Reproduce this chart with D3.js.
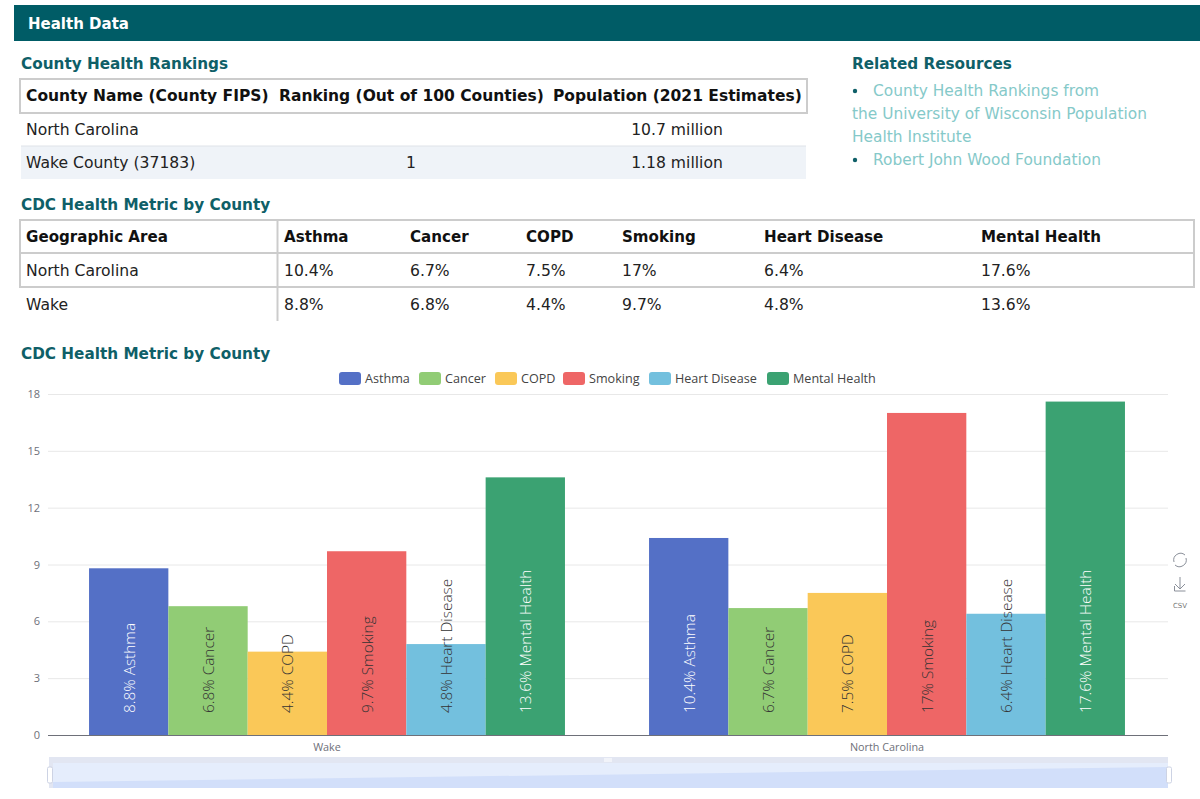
<!DOCTYPE html>
<html>
<head>
<meta charset="utf-8">
<title>Health Data</title>
<script src="https://cdn.jsdelivr.net/npm/d3@7"></script>
<style>
html, body { margin: 0; padding: 0; background: #fff; overflow: hidden; }
svg { display: block; font-family: "DejaVu Sans", sans-serif; }
.heading { font-size: 15.25px; font-weight: bold; fill: #0f5f68; }
.head { font-size: 15.1px; font-weight: bold; fill: #111; }
.head-wide { font-size: 15.5px; font-weight: bold; fill: #111; }
.cell { font-size: 15.6px; fill: #222; }
.link { font-size: 15.4px; fill: #85c9c9; }
.chart-text { font-family: "Open Sans", sans-serif; }
</style>
</head>
<body>
<svg id="page" width="1200" height="799"></svg>
<script>
// Values
var categories = ['Wake', 'North Carolina'];
var metrics = ['Asthma', 'Cancer', 'COPD', 'Smoking', 'Heart Disease', 'Mental Health'];
var wakeValues = [8.8, 6.8, 4.4, 9.7, 4.8, 13.6];
var ncValues = [10.4, 6.7, 7.5, 17, 6.4, 17.6];
var yTicks = [0, 3, 6, 9, 12, 15, 18];
var colors = ['#5470c6', '#91cc75', '#fac858', '#ee6666', '#73c0de', '#3ba272'];
var labelColors = ['#fff', '#333', '#333', '#333', '#333', '#fff'];

var rankHeader = ['County Name (County FIPS)', 'Ranking (Out of 100 Counties)', 'Population (2021 Estimates)'];
var rankRows = [
    ['North Carolina', '', '10.7 million'],
    ['Wake County (37183)', '1', '1.18 million']
];
var metricHeader = ['Geographic Area'].concat(metrics);
var metricRows = [
    ['North Carolina', '10.4%', '6.7%', '7.5%', '17%', '6.4%', '17.6%'],
    ['Wake', '8.8%', '6.8%', '4.4%', '9.7%', '4.8%', '13.6%']
];

var valuesByCategory = [wakeValues, ncValues];
var svg = d3.select('#page');

// Banner and headings
svg.append('rect').attr('x', 14).attr('y', 5).attr('width', 1186).attr('height', 36).attr('fill', '#005c66');
svg.append('text').attr('x', 28).attr('y', 29).attr('fill', '#fff')
    .style('font-size', '15px').style('font-weight', 'bold').text('Health Data');

function heading(x, y, txt) {
    svg.append('text').attr('class', 'heading').attr('x', x).attr('y', y).text(txt);
}
heading(21, 69, 'County Health Rankings');
heading(852, 69, 'Related Resources');
heading(21, 210, 'CDC Health Metric by County');
heading(21, 359, 'CDC Health Metric by County');

// Related resources list
var links = [
    {bullet: true, text: 'County Health Rankings from', y: 96},
    {bullet: false, text: 'the University of Wisconsin Population', y: 119},
    {bullet: false, text: 'Health Institute', y: 142},
    {bullet: true, text: 'Robert John Wood Foundation', y: 165}
];
links.forEach(function(d) {
    if (d.bullet) {
        svg.append('circle').attr('cx', 855).attr('cy', d.y - 5).attr('r', 2.2).attr('fill', '#0f5f68');
    }
    svg.append('text').attr('class', 'link').attr('x', d.bullet ? 873 : 852).attr('y', d.y).text(d.text);
});

// County rankings table
svg.append('rect').attr('x', 21).attr('y', 146).attr('width', 785).attr('height', 33).attr('fill', '#eff3f8');
svg.append('rect').attr('x', 20).attr('y', 79).attr('width', 787).attr('height', 34)
    .attr('fill', '#fff').attr('stroke', '#ccc').attr('stroke-width', 2);
svg.append('line').attr('x1', 21).attr('x2', 806).attr('y1', 146).attr('y2', 146)
    .attr('stroke', '#dfe3e8').attr('stroke-width', 1);

var rankX = [26, 279, 553];
var rankCenter = [null, 411, 677];
rankHeader.forEach(function(h, i) {
    svg.append('text').attr('class', 'head-wide').attr('x', rankX[i]).attr('y', 101).text(h);
});
rankRows.forEach(function(row, r) {
    row.forEach(function(v, i) {
        svg.append('text').attr('class', 'cell')
            .attr('x', i === 0 ? rankX[0] : rankCenter[i])
            .attr('y', 135 + r * 33)
            .attr('text-anchor', i === 0 ? 'start' : 'middle')
            .text(v);
    });
});

// CDC metric table
var metricX = [26, 284, 410, 526, 622, 764, 981];
svg.append('rect').attr('x', 20).attr('y', 220).attr('width', 1174).attr('height', 67)
    .attr('fill', '#fff').attr('stroke', '#ccc').attr('stroke-width', 2);
svg.append('line').attr('x1', 20).attr('x2', 1194).attr('y1', 253).attr('y2', 253)
    .attr('stroke', '#ccc').attr('stroke-width', 2);
svg.append('line').attr('x1', 277.5).attr('x2', 277.5).attr('y1', 220).attr('y2', 321)
    .attr('stroke', '#ccc').attr('stroke-width', 2);
metricHeader.forEach(function(h, i) {
    svg.append('text').attr('class', 'head').attr('x', metricX[i]).attr('y', 242).text(h);
});
metricRows.forEach(function(row, r) {
    row.forEach(function(v, i) {
        svg.append('text').attr('class', 'cell').attr('x', metricX[i]).attr('y', 276 + r * 34).text(v);
    });
});

// Bar chart
var x0 = d3.scaleBand().domain(categories).range([47, 1167]);
var x1 = d3.scaleBand().domain(metrics).range([0, x0.bandwidth()]).paddingInner(0).paddingOuter(0.53);
var y = d3.scaleLinear().domain([0, 18]).range([735, 394]);

var chart = svg.append('g').attr('class', 'chart-text');

chart.append('g').selectAll('line').data(yTicks.slice(1)).join('line')
    .attr('x1', 48).attr('x2', 1168)
    .attr('y1', function(d) { return y(d) + 0.5; }).attr('y2', function(d) { return y(d) + 0.5; })
    .attr('stroke', '#e8e8e8');
chart.append('g').selectAll('text').data(yTicks).join('text')
    .attr('x', 40).attr('y', function(d) { return y(d) + 4; })
    .attr('text-anchor', 'end').attr('fill', '#6e7079').style('font-size', '11px')
    .text(function(d) { return d; });

var groups = chart.selectAll('g.cat').data(categories).join('g').attr('class', 'cat')
    .attr('transform', function(c) { return 'translate(' + x0(c) + ',0)'; });
groups.selectAll('rect').data(function(c, i) { return valuesByCategory[i]; }).join('rect')
    .attr('x', function(d, i) { return x1(metrics[i]); })
    .attr('width', x1.bandwidth())
    .attr('y', function(d) { return y(d); })
    .attr('height', function(d) { return y(0) - y(d); })
    .attr('fill', function(d, i) { return colors[i]; });
groups.selectAll('text.bar-label').data(function(c, i) { return valuesByCategory[i]; }).join('text')
    .attr('class', 'bar-label')
    .attr('transform', function(d, i) {
        return 'translate(' + (x1(metrics[i]) + x1.bandwidth() / 2 + 6) + ',' + (y(0) - 22) + ') rotate(-90)';
    })
    .attr('fill', function(d, i) { return labelColors[i]; })
    .style('font-size', '15.4px')
    .style('font-weight', '300')
    .text(function(d, i) { return d + '% ' + metrics[i]; });

chart.append('line').attr('x1', 48).attr('x2', 1168).attr('y1', 735.5).attr('y2', 735.5).attr('stroke', '#6e7079');
chart.selectAll('text.cat-label').data(categories).join('text').attr('class', 'cat-label')
    .attr('x', function(c) { return x0(c) + x0.bandwidth() / 2; }).attr('y', 751)
    .attr('text-anchor', 'middle').attr('fill', '#6e7079').style('font-size', '10.8px')
    .text(function(c) { return c; });

// Legend
var legendX = [339, 419, 495, 563, 649, 767];
var legend = chart.selectAll('g.legend').data(metrics).join('g').attr('class', 'legend')
    .attr('transform', function(d, i) { return 'translate(' + legendX[i] + ',372)'; });
legend.append('rect').attr('width', 22).attr('height', 13).attr('rx', 3)
    .attr('fill', function(d, i) { return colors[i]; });
legend.append('text').attr('x', 26).attr('y', 11).attr('fill', '#444').style('font-size', '12.6px')
    .text(function(d) { return d; });

// Zoom slider
var slider = svg.append('g');
slider.append('rect').attr('x', 49).attr('y', 757).attr('width', 1119).attr('height', 31).attr('fill', '#e2e6f2');
slider.append('rect').attr('x', 53).attr('y', 763).attr('width', 1115).attr('height', 25).attr('fill', '#e5edfc');
var preview = d3.area().x(function(d) { return d[0]; }).y0(788).y1(function(d) { return d[1]; });
var previewScale = d3.scaleLinear().domain([0, 1]).range([782, 767]);
slider.append('path')
    .datum([[53, previewScale(0)], [1168, previewScale(1)]])
    .attr('d', preview).attr('fill', '#d2dffa');
[49, 1168].forEach(function(px) {
    slider.append('rect').attr('x', px - 1.5).attr('y', 767).attr('width', 5).attr('height', 16).attr('rx', 1.5)
        .attr('fill', '#fff').attr('stroke', '#cdd3e4');
});
slider.append('rect').attr('x', 604).attr('y', 758).attr('width', 8).attr('height', 4).attr('fill', '#f1f3f9');

// Toolbox icons
var tools = svg.append('g').attr('fill', 'none').attr('stroke', '#8a8f99').attr('stroke-width', 1);
tools.append('path').attr('d', 'M1185 555 A6.8 6.8 0 0 0 1174 562 M1175 565 A6.8 6.8 0 0 0 1186 558');
tools.append('path').attr('d', 'M1180 577 V589 M1175 584 L1180 589 L1185 584 M1174.5 586 V591 H1185.5');
svg.append('text').attr('x', 1180).attr('y', 608).attr('text-anchor', 'middle').attr('fill', '#777')
    .style('font-size', '7px').text('CSV');
</script>
</body>
</html>
